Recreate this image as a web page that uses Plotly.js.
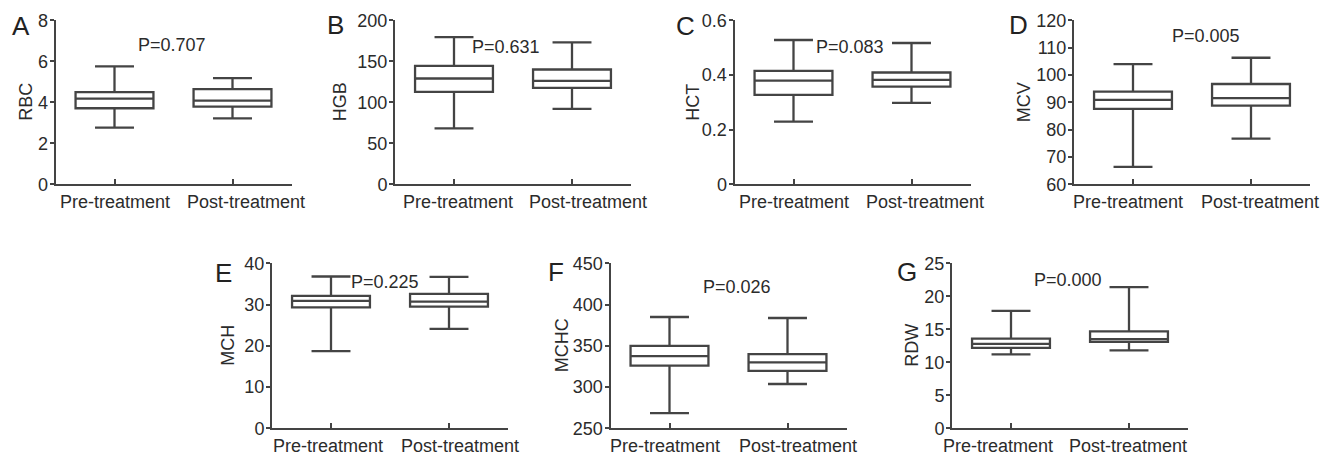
<!DOCTYPE html>
<html>
<head>
<meta charset="utf-8">
<script src="https://cdn.plot.ly/plotly-3.0.1.min.js"></script>
<style>html,body{margin:0;padding:0;background:#fff;}#chart{width:1337px;height:455px;}</style>
</head>
<body>
<div id="chart"></div>
<script>
// ---- data ----
const categories = ['Pre-treatment', 'Post-treatment'];
const panelLetters = ['A', 'B', 'C', 'D', 'E', 'F', 'G'];
const measures = ['RBC', 'HGB', 'HCT', 'MCV', 'MCH', 'MCHC', 'RDW'];
const pLabels = ['P=0.707', 'P=0.631', 'P=0.083', 'P=0.005', 'P=0.225', 'P=0.026', 'P=0.000'];

const preLower  = [2.76, 68.2, 0.229, 66.4, 18.7, 268.5, 11.2];
const preQ1     = [3.71, 112.7, 0.327, 87.6, 29.3, 325.9, 12.2];
const preMedian = [4.18, 129.0, 0.379, 90.9, 30.9, 337.6, 12.8];
const preQ3     = [4.50, 144.3, 0.415, 93.9, 32.1, 349.8, 13.6];
const preUpper  = [5.75, 179.6, 0.528, 104.0, 36.8, 384.9, 17.8];

const postLower  = [3.22, 92.0, 0.298, 76.7, 24.1, 303.7, 11.8];
const postQ1     = [3.79, 117.6, 0.357, 88.8, 29.5, 319.5, 13.1];
const postMedian = [4.08, 126.1, 0.382, 91.5, 30.7, 330.0, 13.5];
const postQ3     = [4.64, 140.0, 0.409, 96.7, 32.6, 340.0, 14.7];
const postUpper  = [5.18, 173.2, 0.517, 106.3, 36.7, 383.7, 21.4];

const yMin  = [0, 0, 0, 60, 0, 250, 0];
const yMax  = [8, 200, 0.6, 120, 40, 450, 25];
const yStep = [2, 50, 0.2, 10, 10, 50, 5];

// ---- layout geometry (pixels / axis offsets) ----
const W = 1337, H = 455;
const axLeft = [55.5, 395, 734.5, 1074, 272, 610.5, 952];
const axTop = [20.3, 20.3, 20.3, 20.3, 263.3, 263.3, 263.3];
const axBottom = [184.3, 184.3, 184.3, 184.3, 428.3, 428.3, 428.3];
const axWidth = 236;
const pPos = [[0.49, 6.8], [0.44, 167], [0.48, 0.504], [0.62, 114.3], [0.46, 35.5], [0.57, 420.9], [0.48, 22.4]];
const letterPos = [[21, 26], [335, 25], [685, 25.5], [1018, 25], [223, 273], [556, 272], [907, 272]];
const yTitleOffset = [29, 55, 41, 50, 44, 49, 40];
const catLabelPos = [[0.004, 1.114], [0.03, 1.136], [0.008, 1.117], [-0.042, 1.072], [-0.023, 1.091], [-0.041, 1.089], [-0.108, 0.99]];

const lineCol = '#444444';
const textCol = '#2b2b2b';
const fontFam = '"Liberation Sans", Arial, Helvetica, sans-serif';

const traces = [];
const layout = {
  width: W, height: H,
  margin: {l: 0, r: 0, t: 0, b: 0},
  paper_bgcolor: '#ffffff',
  plot_bgcolor: 'rgba(0,0,0,0)',
  showlegend: false,
  font: {family: fontFam, size: 18, color: textCol},
  annotations: []
};

for (let i = 0; i < 7; i++) {
  const n = i === 0 ? '' : String(i + 1);
  const xa = 'x' + n, ya = 'y' + n;
  traces.push({
    type: 'box',
    x: categories,
    lowerfence: [preLower[i], postLower[i]],
    q1: [preQ1[i], postQ1[i]],
    median: [preMedian[i], postMedian[i]],
    q3: [preQ3[i], postQ3[i]],
    upperfence: [preUpper[i], postUpper[i]],
    xaxis: xa, yaxis: ya,
    width: 0.66,
    whiskerwidth: 0.5,
    fillcolor: 'rgba(0,0,0,0)',
    line: {color: lineCol, width: 2.3},
    hoverinfo: 'skip',
    boxpoints: false
  });
  const dx = [axLeft[i] / W, (axLeft[i] + axWidth) / W];
  const dy = [1 - axBottom[i] / H, 1 - axTop[i] / H];
  layout['xaxis' + n] = {
    domain: dx, anchor: ya, type: 'category',
    range: [-0.5, 1.5], fixedrange: true,
    showline: true, linecolor: lineCol, linewidth: 2,
    ticks: 'inside', ticklen: 5, tickwidth: 2, tickcolor: lineCol,
    showgrid: false, zeroline: false,
    showticklabels: false
  };
  layout['yaxis' + n] = {
    domain: dy, anchor: xa,
    range: [yMin[i], yMax[i]], dtick: yStep[i], tick0: yMin[i], fixedrange: true,
    showline: true, linecolor: lineCol, linewidth: 2,
    ticks: 'outside', ticklen: 4, tickwidth: 2, tickcolor: lineCol,
    ticklabelstandoff: -2,
    showgrid: false, zeroline: false,
    tickfont: {size: 18, color: textCol, family: fontFam}
  };
  // category labels under the x axis
  for (let c = 0; c < categories.length; c++) {
    layout.annotations.push({
      xref: xa, yref: ya, x: catLabelPos[i][c], y: yMin[i],
      text: categories[c], showarrow: false,
      font: {size: 18, color: textCol, family: fontFam},
      xanchor: 'center', yanchor: 'top', yshift: -6
    });
  }
  layout.annotations.push({
    xref: xa, yref: ya, x: pPos[i][0], y: pPos[i][1],
    text: pLabels[i], showarrow: false,
    font: {size: 18, color: textCol, family: fontFam},
    xanchor: 'center', yanchor: 'middle'
  });
  layout.annotations.push({
    xref: 'paper', yref: 'paper', x: letterPos[i][0] / W, y: 1 - letterPos[i][1] / H,
    text: panelLetters[i], showarrow: false,
    font: {size: 26, color: '#222222', family: fontFam},
    xanchor: 'center', yanchor: 'middle'
  });
  layout.annotations.push({
    xref: 'paper', yref: 'paper',
    x: (axLeft[i] - yTitleOffset[i]) / W, y: 1 - (axTop[i] + axBottom[i]) / 2 / H,
    text: measures[i], showarrow: false, textangle: -90,
    font: {size: 18, color: textCol, family: fontFam},
    xanchor: 'center', yanchor: 'middle'
  });
}

Plotly.newPlot('chart', traces, layout, {staticPlot: true, displayModeBar: false});
</script>
</body>
</html>
